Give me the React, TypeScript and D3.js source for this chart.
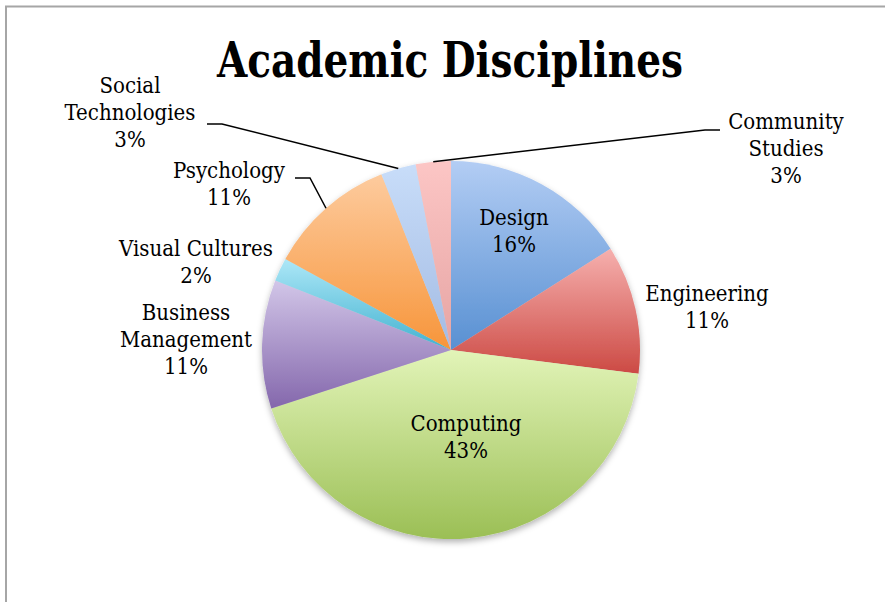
import { useEffect, useRef } from "react";
import * as d3 from "d3";

const categories = [
  "Design",
  "Engineering",
  "Computing",
  "Business Management",
  "Visual Cultures",
  "Psychology",
  "Social Technologies",
  "Community Studies",
];
const shares = [16, 11, 43, 11, 2, 11, 3, 3];
const topColors = ["#b3cdf4", "#f6b0ae", "#e2f4b8", "#d2c6e8", "#ade7f7", "#fdcb9e", "#c8ddf9", "#fcc6c5"];
const bottomColors = ["#5890d2", "#cc4a44", "#9bbf55", "#8467ac", "#42b2d0", "#f7953a", "#a3bbe3", "#e6a4a3"];
const title = "Academic Disciplines";

// where Excel put each label: centre x, first baseline, and the lines it wraps to
const labelLayout: Record<string, { x: number; y: number; lines: string[]; leader?: [number, number][] }> = {
  Design: { x: 514, y: 225, lines: ["Design"] },
  Engineering: { x: 707, y: 301, lines: ["Engineering"] },
  Computing: { x: 466, y: 431, lines: ["Computing"] },
  "Business Management": { x: 186, y: 320, lines: ["Business", "Management"] },
  "Visual Cultures": { x: 196, y: 256, lines: ["Visual Cultures"] },
  Psychology: { x: 229, y: 178, lines: ["Psychology"], leader: [[295, 178], [310, 178]] },
  "Social Technologies": { x: 130, y: 93, lines: ["Social", "Technologies"], leader: [[207, 124], [222, 124]] },
  "Community Studies": { x: 786, y: 129, lines: ["Community", "Studies"], leader: [[720, 130], [705, 130]] },
};

export default function App() {
  const svgRef = useRef<SVGSVGElement | null>(null);

  useEffect(() => {
    const width = 885;
    const height = 602;
    const cx = 451;
    const cy = 350;
    const radius = 189;
    const font = "'DejaVu Serif', serif";

    const svg = d3.select(svgRef.current).attr("width", width).attr("height", height);
    svg.selectAll("*").remove();

    const defs = svg.append("defs");
    const shadow = defs.append("filter").attr("id", "pieShadow").attr("x", "-10%").attr("y", "-10%").attr("width", "120%").attr("height", "120%");
    shadow
      .append("feDropShadow")
      .attr("dx", 0)
      .attr("dy", 3)
      .attr("stdDeviation", 3)
      .attr("flood-color", "#000")
      .attr("flood-opacity", 0.3);

    categories.forEach((_, i) => {
      const g = defs.append("linearGradient").attr("id", `grad${i}`).attr("x1", 0).attr("y1", 0).attr("x2", 0).attr("y2", 1);
      g.append("stop").attr("offset", "0%").attr("stop-color", topColors[i]);
      g.append("stop").attr("offset", "100%").attr("stop-color", bottomColors[i]);
    });

    svg.append("rect").attr("width", width).attr("height", height).attr("fill", "#fff");

    // frame
    svg.append("line").attr("x1", 5).attr("x2", width).attr("y1", 6.5).attr("y2", 6.5).attr("stroke", "#a6a6a6").attr("stroke-width", 2);
    svg.append("line").attr("x1", 6).attr("x2", 6).attr("y1", 6).attr("y2", height).attr("stroke", "#a6a6a6").attr("stroke-width", 2);

    svg
      .append("text")
      .attr("x", 450)
      .attr("y", 77)
      .attr("text-anchor", "middle")
      .attr("font-family", font)
      .attr("font-weight", "bold")
      .attr("font-stretch", "condensed")
      .attr("font-size", 49)
      .attr("textLength", 466)
      .attr("lengthAdjust", "spacingAndGlyphs")
      .text(title);

    const data = categories.map((c, i) => ({ name: c, value: shares[i], index: i }));
    const pie = d3
      .pie<{ name: string; value: number; index: number }>()
      .value((d) => d.value)
      .sort(null);
    const pieData = pie(data);
    const arc = d3.arc<d3.PieArcDatum<{ name: string; value: number; index: number }>>().innerRadius(0).outerRadius(radius);
    const edge = d3.arc<d3.PieArcDatum<{ name: string; value: number; index: number }>>().innerRadius(radius).outerRadius(radius);

    const g = svg.append("g").attr("transform", `translate(${cx},${cy})`);
    const slices = g.append("g").attr("filter", "url(#pieShadow)");
    slices
      .selectAll("path")
      .data(pieData)
      .enter()
      .append("path")
      .attr("d", arc)
      .attr("fill", (d) => `url(#grad${d.data.index})`);

    // leader lines for the small outside slices
    const lineGen = d3.line();
    pieData.forEach((d) => {
      const lay = labelLayout[d.data.name];
      if (!lay.leader) return;
      const [ex, ey] = edge.centroid(d);
      svg
        .append("path")
        .attr("d", lineGen([...lay.leader, [cx + ex, cy + ey]]))
        .attr("fill", "none")
        .attr("stroke", "#000")
        .attr("stroke-width", 1.5);
    });

    const lineHeight = 27;
    pieData.forEach((d) => {
      const lay = labelLayout[d.data.name];
      const t = svg
        .append("text")
        .attr("text-anchor", "middle")
        .attr("font-family", font)
        .attr("font-stretch", "condensed")
        .attr("font-size", 22)
        .attr("fill", "#000");
      [...lay.lines, `${d.data.value}%`].forEach((line, k) => {
        t.append("tspan").attr("x", lay.x).attr("y", lay.y + k * lineHeight).text(line);
      });
    });
  }, []);

  return <svg ref={svgRef} style={{ position: "absolute", left: 0, top: 0, display: "block" }}></svg>;
}
